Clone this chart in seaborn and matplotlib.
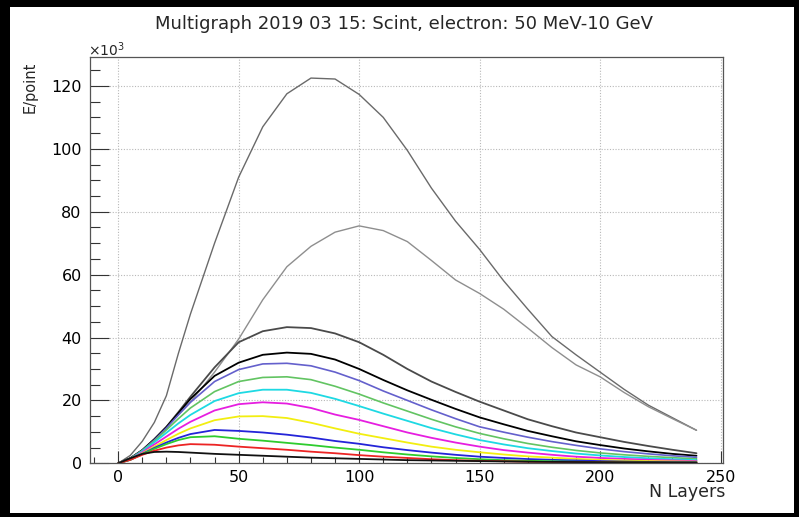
import numpy as np
import pandas as pd
import matplotlib
matplotlib.use("Agg")
import matplotlib.pyplot as plt
from matplotlib.ticker import MultipleLocator
from matplotlib.patches import Rectangle
import seaborn as sns

# ---------------- data (E/point in units of 10^3) ----------------
layers = [0, 5, 10, 15, 20, 25, 30, 40, 50, 60, 70, 80, 90, 100, 110, 120,
          130, 140, 150, 160, 170, 180, 190, 200, 210, 220, 230, 240]

e_black_low = [0, 1.6, 3.0, 3.6, 3.7, 3.6, 3.4, 3.0, 2.7, 2.4, 2.1, 1.8, 1.6, 1.4, 1.2, 1.0,
               0.9, 0.8, 0.7, 0.6, 0.5, 0.45, 0.4, 0.35, 0.3, 0.3, 0.25, 0.25]
e_red = [0, 1.1, 2.7, 4.0, 5.0, 5.7, 6.1, 5.9, 5.3, 4.8, 4.3, 3.7, 3.2, 2.6, 2.1, 1.7,
         1.3, 1.0, 0.8, 0.65, 0.5, 0.4, 0.35, 0.3, 0.25, 0.2, 0.17, 0.15]
e_green = [0, 1.1, 2.9, 4.6, 6.1, 7.4, 8.3, 8.6, 7.8, 7.2, 6.5, 5.8, 5.0, 4.3, 3.5, 2.8,
           2.2, 1.7, 1.3, 1.0, 0.8, 0.65, 0.5, 0.4, 0.35, 0.3, 0.25, 0.2]
e_blue = [0, 1.1, 3.0, 4.9, 6.6, 8.1, 9.3, 10.6, 10.3, 9.8, 9.1, 8.2, 7.1, 6.2, 5.1, 4.2,
          3.4, 2.7, 2.1, 1.7, 1.35, 1.1, 0.9, 0.7, 0.55, 0.45, 0.35, 0.3]
e_yellow = [0, 1.2, 3.2, 5.3, 7.4, 9.4, 11.1, 13.7, 14.9, 15.0, 14.4, 12.9, 11.1, 9.4, 8.0, 6.6,
            5.3, 4.3, 3.5, 2.8, 2.2, 1.8, 1.4, 1.1, 0.9, 0.7, 0.6, 0.5]
e_magenta = [0, 1.3, 3.5, 6.0, 8.5, 11.0, 13.2, 16.8, 18.8, 19.4, 19.0, 17.6, 15.5, 13.8, 11.8, 9.8,
             8.1, 6.6, 5.3, 4.2, 3.4, 2.7, 2.1, 1.7, 1.4, 1.1, 0.9, 0.7]
e_cyan = [0, 1.4, 3.8, 6.7, 9.7, 12.7, 15.4, 19.8, 22.3, 23.4, 23.4, 22.4, 20.5, 18.2, 15.8, 13.5,
          11.2, 9.2, 7.4, 6.0, 4.8, 3.9, 3.1, 2.5, 2.0, 1.6, 1.3, 1.0]
e_ltgreen = [0, 1.5, 4.0, 7.1, 10.6, 14.2, 17.6, 22.8, 26.0, 27.3, 27.5, 26.6, 24.5, 22.0, 19.2, 16.6,
             14.0, 11.6, 9.5, 7.8, 6.3, 5.1, 4.1, 3.3, 2.7, 2.2, 1.8, 1.4]
e_purple = [0, 1.5, 4.1, 7.4, 11.2, 15.4, 19.4, 26.0, 29.8, 31.6, 31.8, 31.0, 29.0, 26.3, 23.0, 20.0,
            17.0, 14.2, 11.6, 9.9, 8.3, 6.9, 5.7, 4.6, 3.7, 3.0, 2.4, 1.9]
e_black_high = [0, 1.6, 4.2, 7.6, 11.5, 16.0, 20.5, 27.8, 32.0, 34.5, 35.2, 34.8, 33.0, 30.0, 26.5, 23.2,
                20.2, 17.3, 14.6, 12.4, 10.3, 8.6, 7.0, 5.8, 4.7, 3.8, 3.0, 2.4]
e_darkgray = [0, 1.6, 4.2, 7.7, 11.6, 16.3, 21.2, 30.5, 38.5, 42.0, 43.3, 43.0, 41.3, 38.5, 34.5, 30.0,
              26.0, 22.7, 19.6, 16.8, 14.0, 11.8, 9.8, 8.3, 6.8, 5.5, 4.3, 3.2]
e_gray_mid = [0, 1.5, 4.0, 7.5, 11.3, 15.5, 19.5, 29.0, 39.5, 52.0, 62.5, 69.0, 73.5, 75.5, 74.0, 70.5,
              64.5, 58.3, 54.0, 49.0, 43.0, 36.8, 31.3, 27.5, 22.5, 18.0, 14.2, 10.5]
e_gray_top = [0, 2.5, 7.0, 13.0, 21.5, 35.0, 47.5, 70.0, 91.0, 107.0, 117.5, 122.5, 122.2, 117.3, 110.0, 99.5,
              87.5, 77.0, 68.0, 58.0, 49.0, 40.3, 34.5, 29.0, 23.5, 18.5, 14.5, 10.5]

series = [
    ("gray_top", e_gray_top, "#6a6a6a", 1.0),
    ("gray_mid", e_gray_mid, "#8e8e8e", 1.0),
    ("darkgray", e_darkgray, "#4a4a4a", 1.3),
    ("black_high", e_black_high, "#000000", 1.3),
    ("purple", e_purple, "#6460cc", 1.2),
    ("ltgreen", e_ltgreen, "#62c462", 1.2),
    ("cyan", e_cyan, "#1ed9e3", 1.3),
    ("magenta", e_magenta, "#e61ee0", 1.3),
    ("yellow", e_yellow, "#f2ee10", 1.3),
    ("blue", e_blue, "#2424d8", 1.3),
    ("green", e_green, "#2ecc2e", 1.3),
    ("red", e_red, "#ec2424", 1.3),
    ("black_low", e_black_low, "#111111", 1.3),
]

# ---------------- figure ----------------
sns.set_style("white")
plt.rcParams["font.family"] = ["DejaVu Sans"]

W, H = 799, 517
fig = plt.figure(figsize=(W / 100, H / 100), dpi=100)
fig.patch.set_facecolor("white")

ax_l, ax_r, ax_t, ax_b = 90, 723, 57, 463.3
ax = fig.add_axes([ax_l / W, 1 - ax_b / H, (ax_r - ax_l) / W, (ax_b - ax_t) / H])

for name, vals, col, lw in series:
    df = pd.DataFrame({"N Layers": layers, "E": vals})
    sns.lineplot(data=df, x="N Layers", y="E", color=col, linewidth=lw, ax=ax,
                 estimator=None, sort=False, legend=False)

ax.set_xlim(-11.7, 251)
ax.set_ylim(0, 129.2)

ax.xaxis.set_major_locator(MultipleLocator(50))
ax.xaxis.set_minor_locator(MultipleLocator(10))
ax.yaxis.set_major_locator(MultipleLocator(20))
ax.yaxis.set_minor_locator(MultipleLocator(5))

ax.grid(True, which="major", linestyle=(0, (1, 1.5)), color="#b8b8b8", linewidth=0.8)
ax.set_axisbelow(True)

ax.tick_params(axis="both", which="both", direction="in", colors="#333333",
               labelcolor="black", width=0.8, bottom=True, left=True, top=False, right=False)
ax.tick_params(axis="y", which="major", length=14, pad=6, labelsize=11.5)
ax.tick_params(axis="y", which="minor", length=7)
ax.tick_params(axis="x", which="major", length=9, pad=5, labelsize=11.5)
ax.tick_params(axis="x", which="minor", length=4.5)

for sp in ax.spines.values():
    sp.set_color("#555555")
    sp.set_linewidth(0.9)

ax.set_xlabel("")
ax.set_ylabel("")

# titles & labels
fig.text(404 / W, 1 - 24 / H, "Multigraph 2019 03 15: Scint, electron: 50 MeV-10 GeV",
         ha="center", va="center", fontsize=13)
fig.text(725 / W, 1 - 492 / H, "N Layers", ha="right", va="center", fontsize=12.5)
fig.text(30 / W, 1 - 87 / H, "E/point", ha="center", va="center", rotation=90, fontsize=10.5)
fig.text(88 / W, 1 - 56 / H, r"$\times10^{3}$", ha="left", va="baseline", fontsize=10)

# outer black frame (canvas border)
border = [(0, 0, W, 4), (0, H - 7, W, 7), (0, 0, 10, H), (W - 5, 0, 5, H)]
for x0, y0, w, h in border:
    fig.patches.append(Rectangle((x0 / W, y0 / H), w / W, h / H, transform=fig.transFigure,
                                 facecolor="black", edgecolor="none", zorder=10))

fig.savefig("out.png", dpi=100)
